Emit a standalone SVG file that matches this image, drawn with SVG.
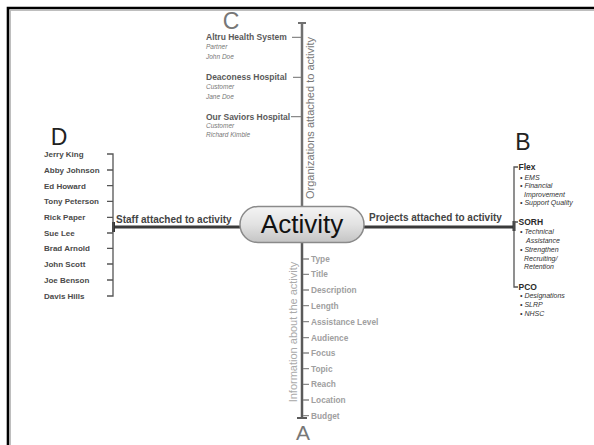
<svg xmlns="http://www.w3.org/2000/svg" width="594" height="445" viewBox="0 0 594 445">
<defs>
<linearGradient id="boxg" x1="0" y1="0" x2="0" y2="1">
<stop offset="0" stop-color="#f4f4f4"/>
<stop offset="0.5" stop-color="#e2e2e2"/>
<stop offset="1" stop-color="#c4c4c4"/>
</linearGradient>
<style>
text{font-family:"Liberation Sans",Arial,sans-serif}
.big{font-size:23px;fill:#222}
.bigg{font-size:23px;fill:#777}
.org{font-size:8.5px;font-weight:bold;fill:#5a5a5a}
.orgs{font-size:6.5px;font-style:italic;fill:#777}
.staff{font-size:8px;font-weight:bold;fill:#4a4a4a}
.lab{font-size:10px;font-weight:bold;fill:#444}
.info{font-size:8.3px;font-weight:bold;fill:#a0a0a0}
.proj{font-size:8.5px;font-weight:bold;fill:#2a2a2a}
.pit{font-size:7px;font-style:italic;fill:#333}
.tick{stroke:#555;stroke-width:1.3;fill:none}
.gtick{stroke:#8a8a8a;stroke-width:1.3;fill:none}
</style>
</defs>
<rect width="594" height="445" fill="#fff"/>
<g id="frame">
<path d="M8,445 V8 H594" fill="none" stroke="#000" stroke-width="2.6"/>
<path d="M10.3,445 V10.3 H594" fill="none" stroke="#999" stroke-width="0.8"/>
</g>
<g id="connectors">
<line x1="302" y1="23" x2="302" y2="207" stroke="#707070" stroke-width="2.5"/>
<line x1="298" y1="23" x2="306" y2="23" stroke="#707070" stroke-width="2"/>
<line x1="302" y1="242" x2="302" y2="418" stroke="#5a5a5a" stroke-width="2.5"/>
<line x1="297" y1="418" x2="307" y2="418" stroke="#5a5a5a" stroke-width="2"/>
<line x1="113" y1="227" x2="240" y2="227" stroke="#3a3a3a" stroke-width="2.8"/>
<line x1="364" y1="227" x2="514" y2="227" stroke="#3a3a3a" stroke-width="2.8"/>
<line x1="113.5" y1="222" x2="113.5" y2="232" stroke="#333" stroke-width="3"/>
<line x1="514" y1="221" x2="514" y2="231" stroke="#333" stroke-width="3"/>
<path class="tick" d="M107,154 H113 V296 H107 M107,170 H113 M107,185.7 H113 M107,201.3 H113 M107,217.3 H113 M107,233 H113 M107,248.3 H113 M107,264 H113 M107,280 H113"/>
<path class="tick" d="M518,167 H514 V287 H518 M514,222 H518"/>
<path class="gtick" d="M292,37.3 H301 M293,77.3 H301 M291,116.7 H301"/>
<path class="gtick" d="M303,259 H309 M303,274.3 H309 M303,290 H309 M303,305.7 H309 M303,321.7 H309 M303,337.7 H309 M303,353 H309 M303,368.7 H309 M303,384.3 H309 M303,400 H309 M303,415.7 H309"/>
</g>
<g id="activity">
<rect x="240" y="206.5" width="124" height="36" rx="18" ry="18" fill="url(#boxg)" stroke="#8a8a8a" stroke-width="1.5"/>
<text x="302" y="233" text-anchor="middle" font-size="26" fill="#111">Activity</text>
</g>
<g id="orgs">
<text class="bigg" x="231" y="29" text-anchor="middle">C</text>
<text transform="translate(314,118) rotate(-90)" text-anchor="middle" font-size="11" fill="#777">Organizations attached to activity</text>
<text class="org" x="206" y="40.3">Altru Health System</text>
<text class="orgs" x="206" y="49">Partner</text>
<text class="orgs" x="206" y="59.3">John Doe</text>
<text class="org" x="206" y="80.3">Deaconess Hospital</text>
<text class="orgs" x="206" y="88.6">Customer</text>
<text class="orgs" x="206" y="99">Jane Doe</text>
<text class="org" x="206" y="119.7">Our Saviors Hospital</text>
<text class="orgs" x="206" y="128">Customer</text>
<text class="orgs" x="206" y="136.6">Richard Kimble</text>
</g>
<g id="staff">
<text class="big" x="59" y="145" text-anchor="middle">D</text>
<text class="lab" x="116" y="223">Staff attached to activity</text>
<text class="staff" x="44" y="157">Jerry King</text>
<text class="staff" x="44" y="173">Abby Johnson</text>
<text class="staff" x="44" y="188.7">Ed Howard</text>
<text class="staff" x="44" y="204.3">Tony Peterson</text>
<text class="staff" x="44" y="220.3">Rick Paper</text>
<text class="staff" x="44" y="236">Sue Lee</text>
<text class="staff" x="44" y="251.3">Brad Arnold</text>
<text class="staff" x="44" y="267">John Scott</text>
<text class="staff" x="44" y="283">Joe Benson</text>
<text class="staff" x="44" y="298.7">Davis Hills</text>
</g>
<g id="projects">
<text class="big" x="523" y="150" text-anchor="middle">B</text>
<text class="lab" x="369" y="221">Projects attached to activity</text>
<text class="proj" x="518.5" y="170">Flex</text>
<text class="pit" x="520" y="180">• EMS</text>
<text class="pit" x="520" y="188.2">• Financial</text>
<text class="pit" x="524" y="196.5">Improvement</text>
<text class="pit" x="520" y="205.2">• Support Quality</text>
<text class="proj" x="518.5" y="225">SORH</text>
<text class="pit" x="520" y="234.2">• Technical</text>
<text class="pit" x="526" y="243.2">Assistance</text>
<text class="pit" x="520" y="251.8">• Strengthen</text>
<text class="pit" x="524" y="260.8">Recruiting/</text>
<text class="pit" x="524" y="269.2">Retention</text>
<text class="proj" x="518.5" y="290">PCO</text>
<text class="pit" x="520" y="298.2">• Designations</text>
<text class="pit" x="520" y="306.5">• SLRP</text>
<text class="pit" x="520" y="315.8">• NHSC</text>
</g>
<g id="info">
<text x="303" y="440" text-anchor="middle" font-size="21" fill="#777">A</text>
<text transform="translate(297.2,332) rotate(-90)" text-anchor="middle" font-size="11" fill="#aaa">Information about the activity</text>
<text class="info" x="311" y="262">Type</text>
<text class="info" x="311" y="277.3">Title</text>
<text class="info" x="311" y="293">Description</text>
<text class="info" x="311" y="308.7">Length</text>
<text class="info" x="311" y="324.7">Assistance Level</text>
<text class="info" x="311" y="340.7">Audience</text>
<text class="info" x="311" y="356">Focus</text>
<text class="info" x="311" y="371.7">Topic</text>
<text class="info" x="311" y="387.3">Reach</text>
<text class="info" x="311" y="403">Location</text>
<text class="info" x="311" y="418.7">Budget</text>
</g>
</svg>
